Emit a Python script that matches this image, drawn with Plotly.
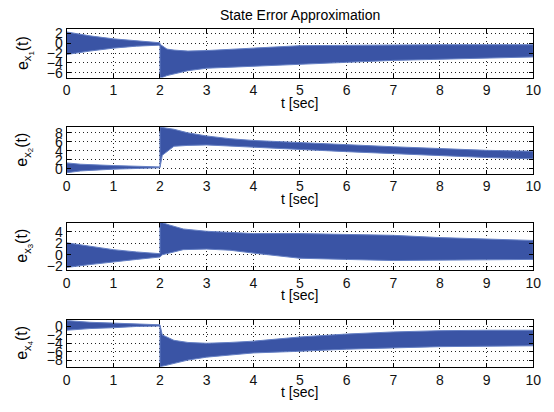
import plotly.graph_objects as go

W, H = 554, 412

# ---- data: envelope of the dense oscillating error signals ----
t1 = [0, 0.5, 1.0, 1.5, 1.98, 2.0, 2.0, 2.05, 2.15, 2.3, 2.6, 3.0, 3.5, 4.0, 5.0, 6.0, 7.0, 8.0, 9.0, 10]
up1 = [2.3, 1.5, 0.9, 0.5, 0.1, 0.1, -0.2, -0.6, -1.2, -1.4, -1.6, -1.5, -1.3, -1.0, -0.5, -0.4, -0.4, -0.3, -0.3, -0.3]
lo1 = [-2.3, -1.6, -1.0, -0.6, -0.4, -0.4, -7.0, -7.0, -6.6, -6.3, -5.6, -5.1, -4.8, -4.6, -4.3, -3.9, -3.5, -3.2, -3.0, -2.8]

t2 = [0, 0.3, 1.0, 1.5, 1.98, 2.0, 2.0, 2.05, 2.3, 2.6, 3.0, 3.5, 4.0, 5.0, 6.0, 7.0, 8.0, 9.0, 10]
up2 = [1.3, 1.0, 0.7, 0.5, 0.4, 0.4, 9.2, 9.2, 8.8, 8.0, 7.3, 6.7, 6.3, 5.8, 5.3, 4.9, 4.5, 4.1, 3.9]
lo2 = [-0.9, -0.5, -0.1, 0.1, 0.2, 0.2, 0.2, 3.0, 5.0, 5.2, 5.3, 5.1, 4.8, 4.3, 3.8, 3.3, 2.9, 2.5, 2.2]

t3 = [0, 0.5, 1.0, 1.5, 1.98, 2.0, 2.0, 2.05, 2.2, 2.5, 3.0, 3.5, 4.0, 5.0, 6.0, 7.0, 8.0, 9.0, 10]
up3 = [2.1, 1.5, 0.9, 0.5, 0.2, 0.2, 5.6, 5.6, 5.2, 4.5, 4.1, 3.9, 3.7, 3.7, 3.6, 3.4, 3.0, 2.7, 2.5]
lo3 = [-2.2, -1.7, -1.2, -0.8, -0.4, -0.4, -0.4, 0.0, 0.3, 0.9, 1.0, 0.8, 0.3, -0.6, -0.8, -1.0, -1.0, -0.9, -0.8]

t4 = [0, 0.5, 1.0, 1.5, 1.98, 2.0, 2.0, 2.05, 2.3, 2.6, 3.0, 3.5, 4.0, 5.0, 6.0, 7.0, 8.0, 9.0, 10]
up4 = [1.4, 1.0, 0.8, 0.6, 0.4, 0.4, 0.4, -2.0, -3.3, -3.8, -4.0, -3.8, -3.5, -2.5, -1.8, -1.3, -1.0, -0.9, -0.9]
lo4 = [-0.9, -0.5, -0.3, 0.0, 0.1, 0.1, -9.6, -9.6, -8.8, -8.0, -7.3, -6.8, -6.3, -5.9, -5.4, -5.1, -4.8, -4.7, -4.6]

x_ticks = [0, 1, 2, 3, 4, 5, 6, 7, 8, 9, 10]
y_ticks = [[-6, -4, -2, 0, 2], [0, 2, 4, 6, 8], [-2, 0, 2, 4], [-8, -6, -4, -2, 0]]
y_ranges = [[-7.0, 2.8], [-1.1, 9.4], [-2.6, 5.6], [-9.6, 1.6]]
y_labels = ["e<sub>x<sub>1</sub></sub>(t)", "e<sub>x<sub>2</sub></sub>(t)",
            "e<sub>x<sub>3</sub></sub>(t)", "e<sub>x<sub>4</sub></sub>(t)"]
title = "State Error Approximation"
x_label = "t [sec]"

series = [(t1, up1, lo1), (t2, up2, lo2), (t3, up3, lo3), (t4, up4, lo4)]

# ---- layout positions (pixels) ----
x_left, x_right = 64, 541
boxes = [(26, 75), (125, 173), (223, 271), (322, 370)]

BLUE = "#3a54a5"
EDGE = "#6680c4"
FONT = "Liberation Sans"

fig = go.Figure()
layout = dict(
    width=W, height=H, margin=dict(l=0, r=0, t=0, b=0),
    paper_bgcolor="white", plot_bgcolor="white", showlegend=False,
    font=dict(family=FONT, size=13, color="black"),
)
annotations = []
for i, ((t, up, lo), (top, bot)) in enumerate(zip(series, boxes)):
    n = "" if i == 0 else str(i + 1)
    px = list(t) + list(t[::-1])
    py = list(up) + list(lo[::-1])
    fig.add_trace(go.Scatter(
        x=px, y=py, mode="lines", fill="toself", fillcolor=BLUE,
        line=dict(color=EDGE, width=1), hoverinfo="skip",
        xaxis="x" + n, yaxis="y" + n,
    ))
    dom = [1 - bot / H, 1 - top / H]
    common = dict(
        showline=True, linecolor="black", linewidth=1, mirror="allticks",
        ticks="inside", ticklen=4, tickcolor="black",
        showgrid=True, gridcolor="#222222", griddash="1px,3px", gridwidth=1,
        zeroline=False, tickfont=dict(family=FONT, size=14, color="#111111"),
    )
    layout["xaxis" + n] = dict(
        domain=[x_left / W, x_right / W], range=[0, 10],
        tickmode="array", tickvals=x_ticks, anchor="y" + n, **common)
    layout["yaxis" + n] = dict(
        domain=dom, range=y_ranges[i], tickmode="array", tickvals=y_ticks[i],
        anchor="x" + n, **common)
    annotations.append(dict(
        text=x_label, x=(x_left + x_right) / 2 / W, y=1 - (bot + 26) / H,
        xref="paper", yref="paper", showarrow=False,
        font=dict(family=FONT, size=14), xanchor="center", yanchor="middle"))
    annotations.append(dict(
        text=y_labels[i], x=21 / W, y=1 - (top + bot) / 2 / H,
        xref="paper", yref="paper", showarrow=False, textangle=-90,
        font=dict(family=FONT, size=16), xanchor="center", yanchor="middle"))

annotations.append(dict(
    text=title, x=(x_left + x_right) / 2 / W, y=1 - 11 / H,
    xref="paper", yref="paper", showarrow=False,
    font=dict(family=FONT, size=14), xanchor="center", yanchor="middle"))
layout["annotations"] = annotations
fig.update_layout(**layout)
fig.write_html("out.html")
